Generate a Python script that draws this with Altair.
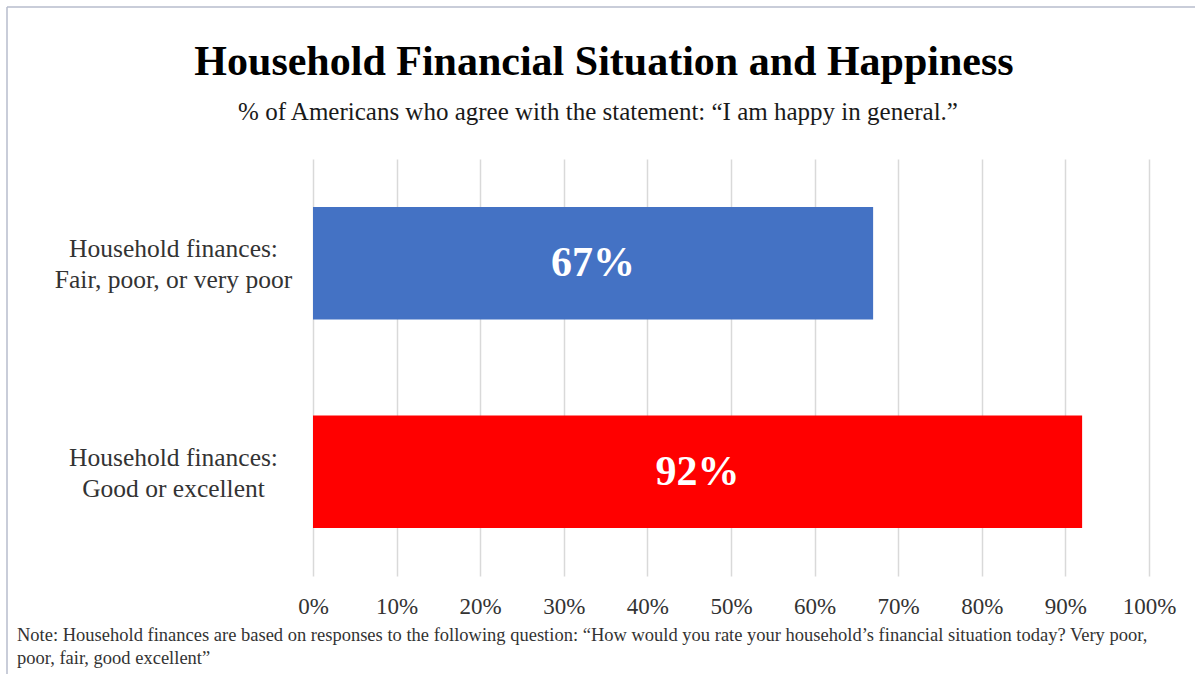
import altair as alt
import pandas as pd

categories = ["Household finances:\nFair, poor, or very poor", "Household finances:\nGood or excellent"]
values = [0.67, 0.92]
colors = ["#4472C4", "#FF0000"]

title_text = "Household Financial Situation and Happiness"
subtitle_text = "% of Americans who agree with the statement: \u201cI am happy in general.\u201d"
note_lines = [
    "Note: Household finances are based on responses to the following question: \u201cHow would you rate your household\u2019s financial situation today? Very poor,",
    "poor, fair, good excellent\u201d",
]

SERIF = "Liberation Serif"

df = pd.DataFrame({"cat": categories, "val": values, "color": colors})

x_enc = alt.X(
    "val:Q",
    scale=alt.Scale(domain=[0, 1], nice=False),
    axis=alt.Axis(
        values=[i / 10 for i in range(11)],
        format=".0%",
        title=None,
        domain=False,
        ticks=False,
        tickSize=0,
        grid=True,
        gridColor="#D9D9D9",
        gridWidth=1.5,
        labelFlush=False,
        labelFont=SERIF,
        labelFontSize=23,
        labelColor="#333333",
        labelPadding=19,
    ),
)
y_enc = alt.Y(
    "cat:N",
    sort=categories,
    scale=alt.Scale(paddingInner=0.46, paddingOuter=0.23),
    axis=alt.Axis(
        title=None,
        domain=False,
        ticks=False,
        tickSize=0,
        labelExpr="split(datum.label, '\\n')",
        labelAlign="center",
        labelPadding=140,
        labelOffset=-14,
        labelFont=SERIF,
        labelFontSize=25.5,
        labelLineHeight=31,
        labelColor="#333333",
        labelLimit=400,
    ),
)

bars = alt.Chart(df).mark_bar().encode(
    x=x_enc,
    y=y_enc,
    color=alt.Color("color:N", scale=None),
)

labels = alt.Chart(df).transform_calculate(mid="datum.val / 2").mark_text(
    font=SERIF, fontSize=42, fontWeight="bold", color="white", baseline="middle", align="center"
).encode(
    x=alt.X("mid:Q"),
    y=alt.Y("cat:N", sort=categories),
    text=alt.Text("val:Q", format=".0%"),
)

title = alt.Chart(pd.DataFrame({"t": [title_text]})).mark_text(
    font=SERIF, fontSize=42, fontWeight="bold", color="#000000", align="center", baseline="alphabetic"
).encode(x=alt.value(291), y=alt.value(-84), text="t")

subtitle = alt.Chart(pd.DataFrame({"t": [subtitle_text]})).mark_text(
    font=SERIF, fontSize=25, color="#1a1a1a", align="center", baseline="alphabetic"
).encode(x=alt.value(285), y=alt.value(-39), text="t")

note = alt.Chart(pd.DataFrame({"t": [note_lines]})).mark_text(
    font=SERIF, fontSize=18.5, color="#333333", align="left", baseline="alphabetic", lineHeight=23
).encode(
    x=alt.value(-296),
    y=alt.value(482),
    text="t",
)

border_left = alt.Chart(pd.DataFrame({"a": [0]})).mark_rule(color="#B7BCCD", strokeWidth=1.5).encode(
    x=alt.value(-306), y=alt.value(-152), y2=alt.value(515)
)
border_top = alt.Chart(pd.DataFrame({"a": [0]})).mark_rule(color="#B7BCCD", strokeWidth=1.5).encode(
    x=alt.value(-306), x2=alt.value(882), y=alt.value(-152)
)

chart = alt.layer(bars, labels, title, subtitle, note, border_left, border_top).properties(
    width=836,
    height=417,
    padding={"left": 313, "top": 159, "right": 46, "bottom": 98},
    autosize=alt.AutoSizeParams(type="none"),
    background="white",
).configure_view(stroke=None)

chart.save("out.html", embed_options={"renderer": "svg", "actions": False})
